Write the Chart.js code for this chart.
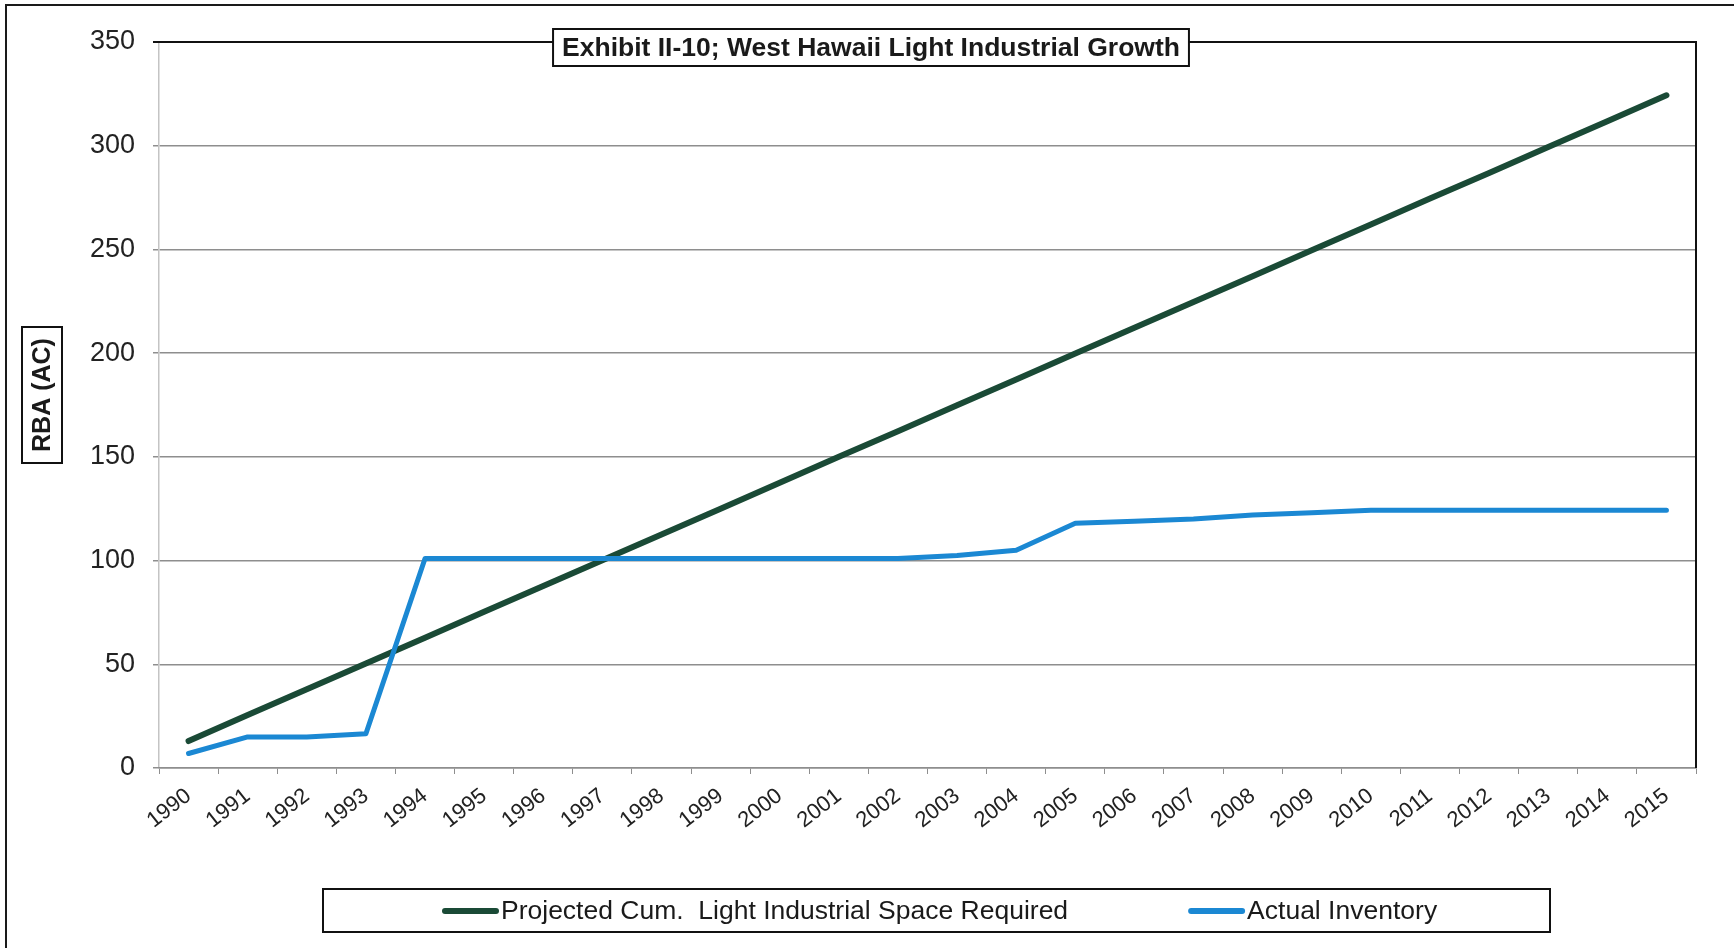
<!DOCTYPE html>
<html>
<head>
<meta charset="utf-8">
<title>West Hawaii Light Industrial Growth</title>
<script src="https://cdn.jsdelivr.net/npm/chart.js@4/dist/chart.umd.min.js"></script>
<style>
    html, body { margin: 0; padding: 0; background: #fff; }
    #chart { display: block; }
</style>
</head>
<body>
<canvas id="chart" width="1734" height="948"></canvas>
<script>
// Exhibit II-10 - West Hawaii light industrial growth
const years = [
    '1990', '1991', '1992', '1993', '1994', '1995', '1996', '1997', '1998',
    '1999', '2000', '2001', '2002', '2003', '2004', '2005', '2006', '2007',
    '2008', '2009', '2010', '2011', '2012', '2013', '2014', '2015'
];

const projectedRequired = [
    13, 25.5, 38, 50.4, 62.8, 75.3, 87.7, 100.2, 112.6,
    125, 137.5, 150, 162.4, 174.9, 187.3, 199.8, 212.2, 224.7,
    237.1, 249.6, 262, 274.5, 286.9, 299.4, 311.8, 324.3
];

const actualInventory = [
    7, 15, 15, 16.5, 101, 101, 101, 101, 101,
    101, 101, 101, 101, 102.5, 105, 118, 119, 120,
    122, 123, 124.3, 124.3, 124.3, 124.3, 124.3, 124.3
];

const seriesNames = ['Projected Cum.  Light Industrial Space Required', 'Actual Inventory'];
const chartTitle = 'Exhibit II-10; West Hawaii Light Industrial Growth';
const yAxisTitle = 'RBA (AC)';

const green = '#1a4a36';
const blue = '#1b88d3';

// Rammer, titelboks, aksetitel og legend tegnes selv
const decorations = {
    id: 'decorations',
    afterDraw(chart) {
        const ctx = chart.ctx;
        const area = chart.chartArea;
        ctx.save();

        // ydre ramme (top + venstre)
        ctx.strokeStyle = '#1a1a1a';
        ctx.lineWidth = 2;
        ctx.beginPath();
        ctx.moveTo(6, 948);
        ctx.lineTo(6, 5);
        ctx.lineTo(1734, 5);
        ctx.stroke();

        // plotramme top + hoejre
        ctx.strokeStyle = '#111';
        ctx.lineWidth = 2;
        ctx.beginPath();
        ctx.moveTo(area.left - 6, area.top);
        ctx.lineTo(area.right, area.top);
        ctx.lineTo(area.right, area.bottom);
        ctx.stroke();

        // titel i boks
        ctx.font = 'bold 26.5px "Liberation Sans", Arial, sans-serif';
        ctx.textBaseline = 'middle';
        ctx.textAlign = 'center';
        const tw = ctx.measureText(chartTitle).width;
        const tcx = 871, tcy = 47.5;
        const bw = tw + 18, bh = 37;
        ctx.fillStyle = '#fff';
        ctx.fillRect(tcx - bw / 2, tcy - bh / 2, bw, bh);
        ctx.strokeStyle = '#111';
        ctx.lineWidth = 2;
        ctx.strokeRect(tcx - bw / 2, tcy - bh / 2, bw, bh);
        ctx.fillStyle = '#1a1a1a';
        ctx.fillText(chartTitle, tcx, tcy + 1);

        // y-aksens titel i boks
        ctx.save();
        ctx.translate(42, 395);
        ctx.rotate(-Math.PI / 2);
        ctx.font = 'bold 25px "Liberation Sans", Arial, sans-serif';
        ctx.fillStyle = '#fff';
        ctx.fillRect(-68, -20, 136, 40);
        ctx.strokeRect(-68, -20, 136, 40);
        ctx.fillStyle = '#1a1a1a';
        ctx.fillText(yAxisTitle, 0, 1);
        ctx.restore();

        // legend
        ctx.lineWidth = 2;
        ctx.strokeStyle = '#111';
        ctx.strokeRect(323, 889, 1227, 43);
        ctx.font = '26.5px "Liberation Sans", Arial, sans-serif';
        ctx.textAlign = 'left';
        ctx.textBaseline = 'middle';
        let x = 442;
        const ly = 911;
        chart.data.datasets.forEach((ds) => {
            ctx.strokeStyle = ds.borderColor;
            ctx.lineWidth = 6;
            ctx.lineCap = 'round';
            ctx.beginPath();
            ctx.moveTo(x + 3, ly);
            ctx.lineTo(x + 54, ly);
            ctx.stroke();
            ctx.fillStyle = '#1a1a1a';
            ctx.fillText(ds.label, x + 59, ly + 1);
            x = x + 59 + ctx.measureText(ds.label).width + 120;
        });

        ctx.restore();
    }
};

const ctx = document.querySelector('#chart');

new Chart(ctx, {
    type: 'line',
    data: {
        labels: years,
        datasets: [{
            label: seriesNames[0],
            data: projectedRequired,
            borderColor: green,
            backgroundColor: green,
            borderWidth: 6,
            pointRadius: 0,
            borderCapStyle: 'round',
            borderJoinStyle: 'round',
            tension: 0,
            order: 1
        }, {
            label: seriesNames[1],
            data: actualInventory,
            borderColor: blue,
            backgroundColor: blue,
            borderWidth: 5,
            pointRadius: 0,
            borderCapStyle: 'round',
            borderJoinStyle: 'round',
            tension: 0,
            order: 0
        }]
    },
    options: {
        responsive: false,
        animation: false,
        devicePixelRatio: 1,
        layout: {
            padding: { left: 0, top: 42, right: 38, bottom: 0 }
        },
        scales: {
            y: {
                min: 0,
                max: 350,
                ticks: {
                    stepSize: 50,
                    color: '#222',
                    padding: 18,
                    font: { family: '"Liberation Sans", Arial, sans-serif', size: 27 }
                },
                grid: {
                    color: '#8e8e8e',
                    lineWidth: 1.5,
                    tickLength: 6
                },
                border: {
                    color: '#c4c4c4',
                    width: 1.5
                },
                afterFit(scale) {
                    scale.width = 159;
                }
            },
            x: {
                offset: true,
                ticks: {
                    color: '#222',
                    autoSkip: false,
                    minRotation: 38,
                    maxRotation: 38,
                    padding: 9,
                    font: { family: '"Liberation Sans", Arial, sans-serif', size: 22 }
                },
                grid: {
                    offset: true,
                    drawOnChartArea: false,
                    color: '#8e8e8e',
                    tickLength: 6
                },
                border: {
                    color: '#8e8e8e',
                    width: 1.5
                },
                afterFit(scale) {
                    scale.height = 180;
                }
            }
        },
        plugins: {
            legend: { display: false },
            title: { display: false },
            tooltip: { enabled: false }
        }
    },
    plugins: [decorations]
});
</script>
</body>
</html>
